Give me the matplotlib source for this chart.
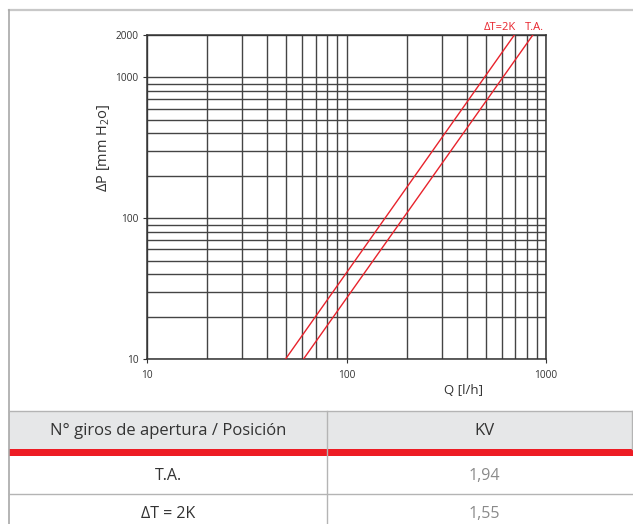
import matplotlib
matplotlib.use("Agg")
import matplotlib.pyplot as plt
from matplotlib.ticker import FixedLocator, NullFormatter

plt.rcParams['font.family'] = ['Open Sans', 'DejaVu Sans']
plt.rcParams['mathtext.default'] = 'regular'

# extremos de cada recta: Q [l/h] para dP = 10 y 2000 mm H2O
dp_ends = [10, 2000]
q_ta = [60.9, 859]
q_dt2k = [49.5, 694]
curve_names = ["ΔT=2K", "T.A."]

x_labels = [10, 100, 1000]
y_labels = [10, 100, 1000, 2000]
x_grid = [m * d for d in (10, 100) for m in range(2, 10)]
y_grid = [m * d for d in (10, 100) for m in range(2, 10)]

# tabla de KV
table_header = ["N° giros de apertura / Posición", "KV"]
table_pos = ["T.A.", "ΔT = 2K"]
table_kv = ["1,94", "1,55"]

RED = '#e8232c'
GRID = '#444444'

W, H = 633, 524
fig = plt.figure(figsize=(W / 100, H / 100), dpi=100)

# fondo en coordenadas de pixel: marco y tabla
bg = fig.add_axes([0, 0, 1, 1])
bg.set_xlim(0, W)
bg.set_ylim(H, 0)
bg.axis('off')

bg.plot([9, W], [10, 10], color='#c8c8c8', lw=1.6)
bg.plot([9, 9], [10, H], color='#a8a8a8', lw=1.2)

# cabecera
bg.add_patch(plt.Rectangle((9, 411), 623, 38, facecolor='#e6e7e8', edgecolor='none'))
bg.plot([9, W], [411, 411], color='#b4b4b4', lw=1.0)
bg.plot([632, 632], [411, 449], color='#b4b4b4', lw=1.0)
bg.add_patch(plt.Rectangle((9, 449), W - 9, 7, facecolor='#ed1c24', edgecolor='none'))
bg.plot([327, 327], [411, H], color='#b4b4b4', lw=1.0)
bg.plot([9, 632], [494, 494], color='#b4b4b4', lw=1.0)

col_x = [168, 484]
bg.text(col_x[0], 431, table_header[0], ha='center', va='center', fontsize=12, color='#333333')
bg.text(col_x[1], 431, table_header[1], ha='center', va='center', fontsize=12, color='#333333')
row_y = [476, 514]
for i in range(len(table_pos)):
    bg.text(col_x[0], row_y[i], table_pos[i], ha='center', va='center', fontsize=11.5, color='#333333')
    bg.text(col_x[1], row_y[i], table_kv[i], ha='center', va='center', fontsize=11.5, color='#8a8a8a')

# grafico
ax = fig.add_axes([147 / W, 1 - 359 / H, 399 / W, 324 / H])
ax.set_xscale('log')
ax.set_yscale('log')
ax.set_xlim(10, 1000)
ax.set_ylim(10, 2000)

ax.xaxis.set_major_locator(FixedLocator(x_labels))
ax.yaxis.set_major_locator(FixedLocator(y_labels))
ax.xaxis.set_minor_locator(FixedLocator(x_grid))
ax.yaxis.set_minor_locator(FixedLocator(y_grid))
ax.xaxis.set_minor_formatter(NullFormatter())
ax.yaxis.set_minor_formatter(NullFormatter())
ax.set_xticklabels([str(v) for v in x_labels])
ax.set_yticklabels([str(v) for v in y_labels])

ax.grid(True, which='both', color=GRID, lw=1.0)
ax.tick_params(which='major', length=3, width=0.8, color='#333333', labelsize=7.3,
               labelcolor='#333333', pad=3)
ax.tick_params(axis='x', which='major', pad=5)
ax.tick_params(which='minor', length=0)
for s in ax.spines.values():
    s.set_color('#333333')
    s.set_linewidth(1.1)

ax.plot(q_dt2k, dp_ends, color=RED, lw=1.0, zorder=3)
ax.plot(q_ta, dp_ends, color=RED, lw=1.0, zorder=3)

fig.text(500 / W, 1 - 28 / H, curve_names[0], ha='center', va='center', fontsize=8, color=RED)
fig.text(534 / W, 1 - 28 / H, curve_names[1], ha='center', va='center', fontsize=8, color=RED)

fig.text(103 / W, 1 - 148 / H, "ΔP [mm H$_2$o]", rotation=90, ha='center', va='center',
         fontsize=10.5, color='#333333')
fig.text(464 / W, 1 - 391 / H, "Q [l/h]", ha='center', va='center', fontsize=9.5, color='#333333')

fig.savefig('out.png', dpi=100)
